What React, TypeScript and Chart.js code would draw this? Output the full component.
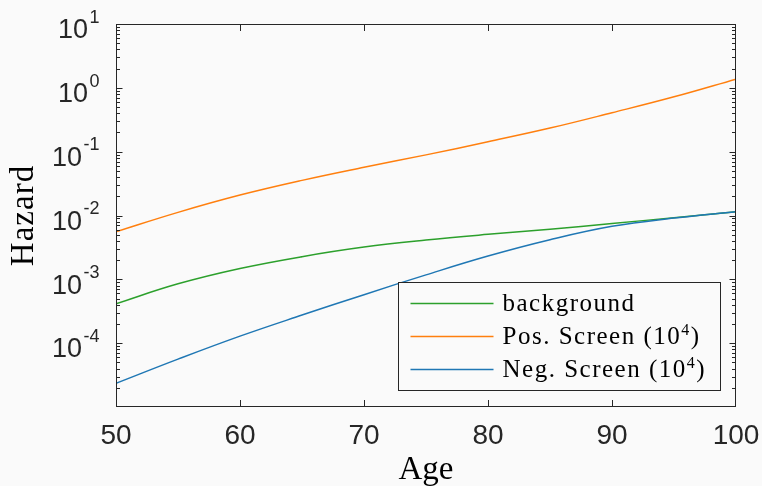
import React, { useEffect, useRef } from "react";
import { Chart, registerables } from "chart.js";
Chart.register(...registerables);

// ---- data ----
const ages = [50, 55, 60, 65, 70, 75, 80, 85, 90, 95, 100];
const background = [4.15e-4, 8.51e-4, 1.479e-3, 2.265e-3, 3.199e-3, 4.12e-3, 5.07e-3, 6.1e-3, 7.5e-3, 9.23e-3, 1.148e-2];
const posScreen = [5.57e-3, 1.12e-2, 2.09e-2, 3.55e-2, 5.69e-2, 8.91e-2, 0.143, 0.234, 0.407, 0.724, 1.37];
const negScreen = [2.35e-5, 5.62e-5, 1.288e-4, 2.754e-4, 5.75e-4, 1.175e-3, 2.317e-3, 4.17e-3, 6.76e-3, 9.12e-3, 1.148e-2];
const seriesLabels = ["background", "Pos. Screen (10^4)", "Neg. Screen (10^4)"];
const seriesValues = [background, posScreen, negScreen];
const seriesColors = ["#2ca02c", "#ff7f0e", "#1f77b4"];
const seriesOrder = [3, 2, 1];
const xTicks = [50, 60, 70, 80, 90, 100];
const yLabelExponents = [-4, -3, -2, -1, 0, 1];
const yMin = 1e-5;
const yMax = 10;
const xTitle = "Age";
const yTitle = "Hazard";

const BG = "#fafafa";
const AXIS = "#262626";
const SANS = '"Liberation Sans", Arial, sans-serif';
const SERIF = '"Liberation Serif", "Times New Roman", serif';

function yTickValues() {
  const out: number[] = [];
  for (let e = -5; e <= 0; e++) for (let k = 1; k <= 9; k++) out.push(k * Math.pow(10, e));
  out.push(10);
  return out;
}

function isMajor(v: number) {
  const l = Math.log10(v);
  return Math.abs(l - Math.round(l)) < 1e-9;
}

function drawSup(ctx: CanvasRenderingContext2D, text: string, x: number, y: number, size: number, supSize: number, raise: number, spacing: string) {
  // text may contain "^d" for a superscript
  const parts = text.split(/\^(\S)/);
  let cx = x;
  parts.forEach((p, i) => {
    if (!p) return;
    const sup = i % 2 === 1;
    ctx.font = `${sup ? supSize : size}px ${SERIF}`;
    (ctx as any).letterSpacing = spacing;
    ctx.fillText(p, cx, sup ? y - raise : y);
    cx += ctx.measureText(p).width;
  });
}

const matlabPlugin = {
  id: "matlabAxes",
  beforeDraw(chart: any) {
    const { ctx, width, height } = chart;
    ctx.save();
    ctx.fillStyle = BG;
    ctx.fillRect(0, 0, width, height);
    ctx.restore();
  },
  afterDatasetsDraw(chart: any) {
    const { ctx, chartArea: a, scales } = chart;
    const xs = scales.x;
    const ys = scales.y;
    const L = Math.round(a.left) + 0.5;
    const R = Math.round(a.right) - 0.5;
    const T = Math.round(a.top) + 0.5;
    const B = Math.round(a.bottom) - 0.5;
    ctx.save();

    // legend
    const lw = 322, lh = 108;
    const lx = Math.round(a.right - 338.5) + 0.5;
    const ly = Math.round(a.bottom - 125.5) + 0.5;
    ctx.fillStyle = BG;
    ctx.fillRect(lx, ly, lw, lh);
    ctx.strokeStyle = AXIS;
    ctx.lineWidth = 1;
    ctx.strokeRect(lx, ly, lw, lh);
    seriesLabels.forEach((lab, i) => {
      const ry = ly + 21 + i * 33;
      ctx.strokeStyle = seriesColors[i];
      ctx.lineWidth = 1.5;
      ctx.beginPath();
      ctx.moveTo(lx + 12, ry);
      ctx.lineTo(lx + 95, ry);
      ctx.stroke();
      ctx.fillStyle = "#000";
      ctx.textAlign = "left";
      ctx.textBaseline = "alphabetic";
      drawSup(ctx, lab, lx + 104, ry + 7, 25, 16, 9, "1.5px");
    });
    (ctx as any).letterSpacing = "0px";

    // box
    ctx.strokeStyle = AXIS;
    ctx.lineWidth = 1;
    ctx.strokeRect(L, T, R - L, B - T);

    // y ticks
    ctx.beginPath();
    ys.ticks.forEach((t: any) => {
      const v = t.value;
      if (v <= yMin * 1.0001 || v >= yMax * 0.9999) return;
      const py = Math.round(ys.getPixelForValue(v)) + 0.5;
      const len = isMajor(v) ? 6 : 3.5;
      ctx.moveTo(L, py);
      ctx.lineTo(L + len, py);
      ctx.moveTo(R, py);
      ctx.lineTo(R - len, py);
    });
    // x ticks
    xs.ticks.forEach((t: any) => {
      const v = t.value;
      if (v <= 50 || v >= 100) return;
      const px = Math.round(xs.getPixelForValue(v)) + 0.5;
      ctx.moveTo(px, B);
      ctx.lineTo(px, B - 6.5);
      ctx.moveTo(px, T);
      ctx.lineTo(px, T + 6.5);
    });
    ctx.stroke();

    // y tick labels 10^n
    ctx.fillStyle = AXIS;
    ctx.textAlign = "left";
    ctx.textBaseline = "alphabetic";
    yLabelExponents.forEach((e) => {
      const py = ys.getPixelForValue(Math.pow(10, e));
      const base = "10";
      const ex = String(e);
      ctx.font = `27px ${SANS}`;
      const wb = ctx.measureText(base).width;
      ctx.font = `18px ${SANS}`;
      const we = ctx.measureText(ex).width;
      const right = a.left - 16.5;
      const xb = right - we - 1.5 - wb;
      ctx.font = `27px ${SANS}`;
      ctx.fillText(base, xb, py + 14.3);
      ctx.font = `18px ${SANS}`;
      ctx.fillText(ex, xb + wb + 1.5, py - 1.3);
    });

    // x tick labels
    ctx.font = `28px ${SANS}`;
    ctx.textAlign = "center";
    xs.ticks.forEach((t: any) => {
      const px = xs.getPixelForValue(t.value);
      ctx.fillText(String(t.value), px, a.bottom + 36.5);
    });

    // titles
    ctx.fillStyle = "#000";
    ctx.font = `33px ${SERIF}`;
    ctx.textAlign = "center";
    ctx.fillText(xTitle, (a.left + a.right) / 2, 479);
    ctx.save();
    ctx.translate(33.3, (a.top + a.bottom) / 2);
    ctx.rotate(-Math.PI / 2);
    (ctx as any).letterSpacing = "1px";
    ctx.fillText(yTitle, 0, 0);
    ctx.restore();

    ctx.restore();
  },
};

export default function App() {
  const ref = useRef<HTMLCanvasElement>(null);
  useEffect(() => {
    document.body.style.margin = "0";
    document.body.style.background = BG;
    const canvas = ref.current!;
    const chart = new Chart(canvas, {
      type: "line",
      data: {
        datasets: seriesLabels.map((label, i) => ({
          label,
          data: ages.map((x, j) => ({ x, y: seriesValues[i][j] })),
          borderColor: seriesColors[i],
          backgroundColor: seriesColors[i],
          borderWidth: 1.5,
          pointRadius: 0,
          tension: 0.4,
          fill: false,
          order: seriesOrder[i],
        })),
      },
      options: {
        responsive: false,
        animation: false,
        devicePixelRatio: 1,
        layout: { padding: { left: 0, top: 24, right: 26, bottom: 0 } },
        plugins: { legend: { display: false }, tooltip: { enabled: false }, title: { display: false } },
        scales: {
          x: {
            type: "linear",
            min: 50,
            max: 100,
            afterBuildTicks: (s: any) => {
              s.ticks = xTicks.map((v) => ({ value: v }));
            },
            afterFit: (s: any) => {
              s.height = 79;
            },
            ticks: { display: false },
            grid: { display: false },
            border: { display: false },
          },
          y: {
            type: "logarithmic",
            min: yMin,
            max: yMax,
            afterBuildTicks: (s: any) => {
              s.ticks = yTickValues().map((v) => ({ value: v }));
            },
            afterFit: (s: any) => {
              s.width = 116;
            },
            ticks: { display: false },
            grid: { display: false },
            border: { display: false },
          },
        },
      } as any,
      plugins: [matlabPlugin],
    });
    return () => chart.destroy();
  }, []);
  return (
    <div style={{ width: 762, height: 486 }}>
      <canvas ref={ref} width={762} height={486} style={{ display: "block" }} />
    </div>
  );
}
